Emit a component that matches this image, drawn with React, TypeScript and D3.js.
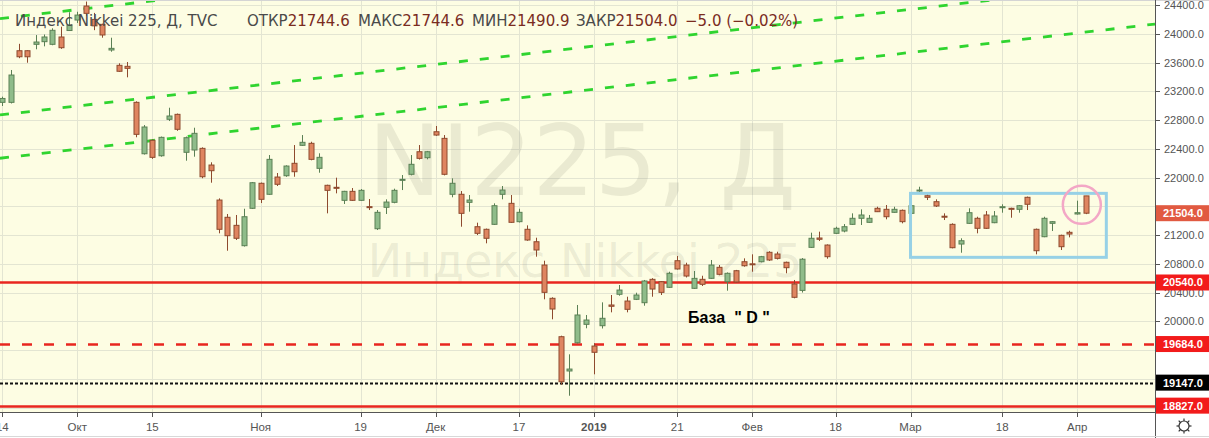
import * as d3 from 'd3';

// trading days shown (Sep 14 2018 .. Apr 2 2019)
const dates = [
  '09-14', '09-18', '09-19', '09-20', '09-21', '09-25', '09-26', '09-27', '09-28',
  '10-01', '10-02', '10-03', '10-04', '10-05', '10-09', '10-10', '10-11', '10-12',
  '10-15', '10-16', '10-17', '10-18', '10-19', '10-22', '10-23', '10-24', '10-25',
  '10-26', '10-29', '10-30', '10-31', '11-01', '11-02', '11-05', '11-06', '11-07',
  '11-08', '11-09', '11-12', '11-13', '11-14', '11-15', '11-16', '11-19', '11-20',
  '11-21', '11-22', '11-26', '11-27', '11-28', '11-29', '11-30', '12-03', '12-04',
  '12-05', '12-06', '12-07', '12-10', '12-11', '12-12', '12-13', '12-14', '12-17',
  '12-18', '12-19', '12-20', '12-21', '12-25', '12-26', '12-27', '12-28', '01-04',
  '01-07', '01-08', '01-09', '01-10', '01-11', '01-15', '01-16', '01-17', '01-18',
  '01-21', '01-22', '01-23', '01-24', '01-25', '01-28', '01-29', '01-30', '01-31',
  '02-01', '02-04', '02-05', '02-06', '02-07', '02-08', '02-12', '02-13', '02-14',
  '02-15', '02-18', '02-19', '02-20', '02-21', '02-22', '02-25', '02-26', '02-27',
  '02-28', '03-01', '03-04', '03-05', '03-06', '03-07', '03-08', '03-11', '03-12',
  '03-13', '03-14', '03-15', '03-18', '03-19', '03-20', '03-22', '03-25', '03-26',
  '03-27', '03-28', '03-29', '04-01', '04-02',
];

const opens = [
  23046, 23046, 23764, 23764, 23853, 23890, 23853, 23955, 24045,
  24191, 24386, 24200, 24131, 23774, 23561, 23547, 23046, 22331,
  22518, 22303, 22810, 22879, 22351, 22383, 22406, 22174, 21687,
  21447, 21335, 21052, 21572, 21920, 21767, 22007, 22025, 22198,
  22448, 22476, 22128, 21892, 21864, 21683, 21808, 21683, 21595,
  21288, 21586, 21655, 21962, 22045, 22359, 22276, 22637, 22545,
  21767, 21767, 21655, 21316, 21280, 21349, 21767, 21641, 21386,
  21280, 21107, 20783, 20320, 19786, 19309, 19702, 19958, 19656,
  19939, 20227, 20376, 20282, 20306, 20259, 20584, 20551, 20473,
  20843, 20783, 20459, 20584, 20598, 20751, 20551, 20704, 20829,
  20800, 20829, 20960, 20936, 20821, 20519, 20430, 21029, 21159,
  21061, 21224, 21256, 21349, 21433, 21377, 21572, 21558, 21516,
  21544, 21502, 21815, 21747, 21664, 21462, 21349, 21075, 21363,
  21433, 21479, 21372, 21585, 21572, 21558, 21725, 21280, 21177,
  21363, 21196, 21238, 21493, 21744.6,
];

const highs = [
  23125, 23496, 23860, 23770, 23982, 23990, 24076, 24098, 24300,
  24306, 24448, 24290, 24140, 23945, 23589, 23607, 23060, 22730,
  22530, 22570, 22971, 22890, 22570, 22693, 22420, 22212, 21710,
  21493, 21479, 21566, 21938, 21930, 22313, 22063, 22170, 22452,
  22591, 22498, 22337, 21900, 21998, 21815, 21854, 21840, 21701,
  21548, 21697, 21845, 22035, 22313, 22452, 22370, 22717, 22591,
  21989, 21812, 21757, 21372, 21290, 21641, 21882, 21757, 21566,
  21335, 21163, 20843, 20334, 19800, 19541, 20227, 20088, 19694,
  20264, 20366, 20505, 20342, 20398, 20575, 20600, 20560, 20690,
  20908, 20815, 20700, 20634, 20853, 20783, 20680, 20715, 20876,
  20932, 20910, 20975, 20968, 20830, 20575, 20880, 21233, 21247,
  21070, 21316, 21353, 21502, 21558, 21479, 21594, 21618, 21594,
  21555, 21615, 21872, 21780, 21697, 21502, 21363, 21155, 21572,
  21455, 21534, 21534, 21628, 21580, 21615, 21735, 21290, 21455,
  21395, 21205, 21260, 21678, 21744.6,
];

const lows = [
  22995, 23030, 23660, 23597, 23784, 23825, 23840, 23790, 24040,
  24150, 24250, 24050, 23945, 23750, 23470, 23394, 22560, 22320,
  22260, 22290, 22786, 22650, 22234, 22290, 21990, 21928, 21224,
  20982, 21131, 21040, 21562, 21645, 21760, 21882, 22010, 22011,
  22440, 22240, 22067, 21502, 21780, 21632, 21675, 21675, 21548,
  21270, 21493, 21642, 21826, 22030, 22250, 22253, 22580, 22030,
  21725, 21316, 21525, 21200, 21085, 21340, 21697, 21370, 21375,
  21120, 20899, 20306, 20028, 19118, 18965, 19690, 19903, 19263,
  19900, 20125, 20356, 20125, 20296, 20217, 20342, 20366, 20465,
  20720, 20610, 20450, 20491, 20590, 20640, 20426, 20540, 20760,
  20690, 20820, 20840, 20860, 20668, 20320, 20400, 21020, 21117,
  20871, 21215, 21238, 21340, 21340, 21370, 21520, 21419, 21510,
  21363, 21490, 21789, 21687, 21590, 21409, 21015, 20954, 21355,
  21224, 21285, 21365, 21511, 21441, 21511, 21548, 20932, 21170,
  21256, 20992, 21168, 21485, 21490.9,
];

const closes = [
  23100, 23426, 23680, 23680, 23885, 23955, 24048, 23806, 24120,
  24260, 24284, 24110, 23983, 23797, 23478, 23519, 22601, 22703,
  22281, 22559, 22856, 22671, 22554, 22615, 22011, 22095, 21280,
  21191, 21155, 21455, 21928, 21697, 22253, 21906, 22160, 22081,
  22490, 22253, 22281, 21822, 21850, 21808, 21683, 21822, 21586,
  21516, 21659, 21822, 21975, 22184, 22267, 22359, 22591, 22045,
  21920, 21502, 21687, 21224, 21155, 21608, 21826, 21377, 21516,
  21131, 20992, 20403, 20171, 19160, 19336, 20088, 20018, 19569,
  20042, 20209, 20435, 20167, 20366, 20561, 20449, 20403, 20668,
  20728, 20630, 20598, 20515, 20783, 20654, 20668, 20547, 20773,
  20788, 20899, 20853, 20876, 20746, 20334, 20864, 21155, 21141,
  20899, 21294, 21316, 21433, 21479, 21433, 21525, 21455, 21558,
  21386, 21608, 21826, 21725, 21604, 21455, 21024, 21121, 21511,
  21294, 21294, 21465, 21594, 21558, 21608, 21628, 20982, 21433,
  21386, 21038, 21214, 21511, 21504.0,
];

// bottom axis
const tickIdx = [0, 9, 18, 31, 43, 52, 62, 71, 81, 90, 100, 109, 120, 129];
const tickLabels = ['14', 'Окт', '15', 'Ноя', '19', 'Дек', '17', '2019', '21', 'Фев', '18', 'Мар', '18', 'Апр'];

// right axis (grid every 400, labels hidden under the price boxes are left out)
const priceTicks = d3.range(18800, 24401, 400);
const hiddenTicks = [21600, 19600, 19200, 18800];

// horizontal levels
const levelPrices = [20540, 19684, 19147, 18827];
const levelKinds = ['solid', 'dash', 'dot', 'solid'];

// green channel lines: [index, price] anchors
const channelLines = [
  [[0, 24215], [130, 25965]],
  [[0, 22874], [130, 24621]],
  [[0, 22272], [130, 24023]],
];

// box around the range and circle on the last bars
const boxIdx = [109, 132.5];
const boxPrice = [20890, 21780];
const lastPrice = 21504.0;

const W = 1209;
const H = 438;
const PR = 1155; // plot right
const PB = 412; // plot bottom

const UP_FILL = '#8fbc8a';
const UP_LINE = '#5b8055';
const DN_FILL = '#df8560';
const DN_LINE = '#8e4a2e';

export default function App() {
  const x = d3.scaleLinear().domain([0, dates.length - 1]).range([2.3, 1085.5]);
  const y = d3.scaleLinear().domain([18738.6, 24469.6]).range([PB, 0]);

  const candles = dates.map((d, i) => {
    const o = opens[i], c = closes[i];
    const up = c >= o;
    const cx = Math.round(x(i)) + 0.5;
    const top = y(Math.max(o, c));
    const bot = y(Math.min(o, c));
    return (
      <g key={d}>
        <line x1={cx} x2={cx} y1={y(highs[i])} y2={y(lows[i])} stroke={up ? UP_LINE : DN_LINE} strokeWidth={1} />
        <rect x={cx - 2.5} y={top} width={5} height={Math.max(bot - top, 1)}
          fill={up ? UP_FILL : DN_FILL} stroke={up ? UP_LINE : DN_LINE} strokeWidth={1} />
      </g>
    );
  });

  const channel = channelLines.map((ln, k) => {
    const x1 = x(ln[0][0]), y1 = y(ln[0][1]);
    const x2 = x(ln[1][0]), y2 = y(ln[1][1]);
    const s = (y2 - y1) / (x2 - x1);
    return (
      <line key={k} x1={0} y1={y1 - s * x1} x2={PR} y2={y1 + s * (PR - x1)}
        stroke="#2fd42f" strokeWidth={2.8} strokeDasharray="9,12" />
    );
  });

  const levels = levelPrices.map((p, k) => {
    const yy = Math.round(y(p)) + 0.5;
    const kind = levelKinds[k];
    if (kind === 'solid') {
      return <line key={k} x1={0} x2={PR} y1={yy} y2={yy} stroke="#e8261f" strokeWidth={2.6} />;
    }
    if (kind === 'dash') {
      return <line key={k} x1={0} x2={PR} y1={yy} y2={yy} stroke="#e8261f" strokeWidth={2.6} strokeDasharray="10,12" />;
    }
    return <line key={k} x1={0} x2={PR} y1={yy} y2={yy} stroke="#111" strokeWidth={2} strokeDasharray="3,2" />;
  });

  const labelBoxes = [
    { p: lastPrice, bg: '#e15a41' },
    ...levelPrices.map((p, k) => ({ p, bg: levelKinds[k] === 'dot' ? '#000' : '#f21b1b' })),
  ];

  const hdr = { fontFamily: 'DejaVu Sans', fontSize: 15 };
  const val = '#7a2c1f';
  const lab = '#4a4a4a';

  return (
    <div style={{ position: 'absolute', left: 0, top: 0 }}>
      <svg width={W} height={H} style={{ display: 'block', fontFamily: 'Liberation Sans, Arial, sans-serif' }}>
        <rect x={0} y={0} width={W} height={H} fill="#ffffff" />
        <rect x={0} y={0} width={PR} height={PB} fill="#fdfde3" />
        <defs>
          <clipPath id="plot">
            <rect x={0} y={0} width={PR} height={PB} />
          </clipPath>
        </defs>

        <g clipPath="url(#plot)">
          {/* grid */}
          {priceTicks.map((p) => (
            <line key={p} x1={0} x2={PR} y1={Math.round(y(p)) + 0.5} y2={Math.round(y(p)) + 0.5} stroke="#e3e5d2" />
          ))}
          {tickIdx.map((i) => (
            <line key={i} x1={Math.round(x(i)) + 0.5} x2={Math.round(x(i)) + 0.5} y1={0} y2={PB} stroke="#e3e5d2" />
          ))}

          {/* watermark */}
          <text x={582} y={195} textAnchor="middle" fontFamily="DejaVu Sans" fontSize={98} fill="rgba(130,130,110,0.15)">NI225, Д</text>
          <text x={585} y={277} textAnchor="middle" fontFamily="DejaVu Sans" fontSize={46} fill="rgba(130,130,110,0.15)">Индекс Nikkei 225</text>

          {channel}
          {levels}
          {candles}

          <rect x={x(boxIdx[0])} y={y(boxPrice[1])} width={x(boxIdx[1]) - x(boxIdx[0])} height={y(boxPrice[0]) - y(boxPrice[1])}
            fill="none" stroke="#97d1e6" strokeWidth={3} />
          <circle cx={(x(129) + x(130)) / 2 + 0.5} cy={y(21620)} r={19} fill="none" stroke="#f3a7c6" strokeWidth={2.5} />

          <text x={688} y={323} fontSize={16} fontWeight="bold" fill="#000" style={{ whiteSpace: 'pre' }}>{'База  " D "'}</text>
        </g>

        {/* header */}
        <g {...hdr}>
          <text x={15} y={26} fill={lab}>Индекс Nikkei 225, Д, TVC</text>
          <text x={247} y={26} fill={lab}>ОТКР<tspan fill={val}>21744.6</tspan></text>
          <text x={358} y={26} fill={lab}>МАКС<tspan fill={val}>21744.6</tspan></text>
          <text x={472} y={26} fill={lab}>МИН<tspan fill={val}>21490.9</tspan></text>
          <text x={576} y={26} fill={lab}>ЗАКР<tspan fill={val}>21504.0</tspan></text>
          <text x={685} y={26} fill={val}>−5.0 (−0.02%)</text>
        </g>

        {/* borders / axes */}
        <line x1={0} x2={W} y1={0.5} y2={0.5} stroke="#d4d4d4" />
        <line x1={PR + 0.5} x2={PR + 0.5} y1={0} y2={H} stroke="#555" />
        <line x1={0} x2={PR} y1={PB + 0.5} y2={PB + 0.5} stroke="#555" />
        <line x1={0} x2={W} y1={436.5} y2={436.5} stroke="#d8d8d8" />

        {/* right axis */}
        {priceTicks.map((p) => (
          <g key={p}>
            <line x1={PR} x2={PR + 5} y1={Math.round(y(p)) + 0.5} y2={Math.round(y(p)) + 0.5} stroke="#555" />
            {!hiddenTicks.includes(p) && (
              <text x={1164} y={y(p) + 4} fontSize={11} fill="#555">{p.toFixed(1)}</text>
            )}
          </g>
        ))}
        {labelBoxes.map((b, k) => (
          <g key={k}>
            <rect x={PR + 1} y={y(b.p) - 8} width={W - PR - 1} height={16} fill={b.bg} />
            <text x={1163} y={y(b.p) + 4} fontSize={11} fontWeight="bold" fill="#fff">{b.p.toFixed(1)}</text>
          </g>
        ))}

        {/* bottom axis */}
        {tickIdx.map((i, k) => (
          <g key={i}>
            <line x1={Math.round(x(i)) + 0.5} x2={Math.round(x(i)) + 0.5} y1={PB} y2={PB + 5} stroke="#555" />
            <text x={x(i)} y={431} textAnchor="middle" fontSize={11.5}
              fontWeight={tickLabels[k] === '2019' ? 'bold' : 'normal'} fill="#555">{tickLabels[k]}</text>
          </g>
        ))}

        {/* settings icon */}
        <g transform="translate(1184,426)" stroke="#333" strokeWidth={1.2} fill="none">
          <circle r={5} />
          {d3.range(8).map((k) => {
            const a = (k * Math.PI) / 4;
            return <line key={k} x1={Math.cos(a) * 5} y1={Math.sin(a) * 5} x2={Math.cos(a) * 7.5} y2={Math.sin(a) * 7.5} />;
          })}
        </g>
      </svg>
    </div>
  );
}
